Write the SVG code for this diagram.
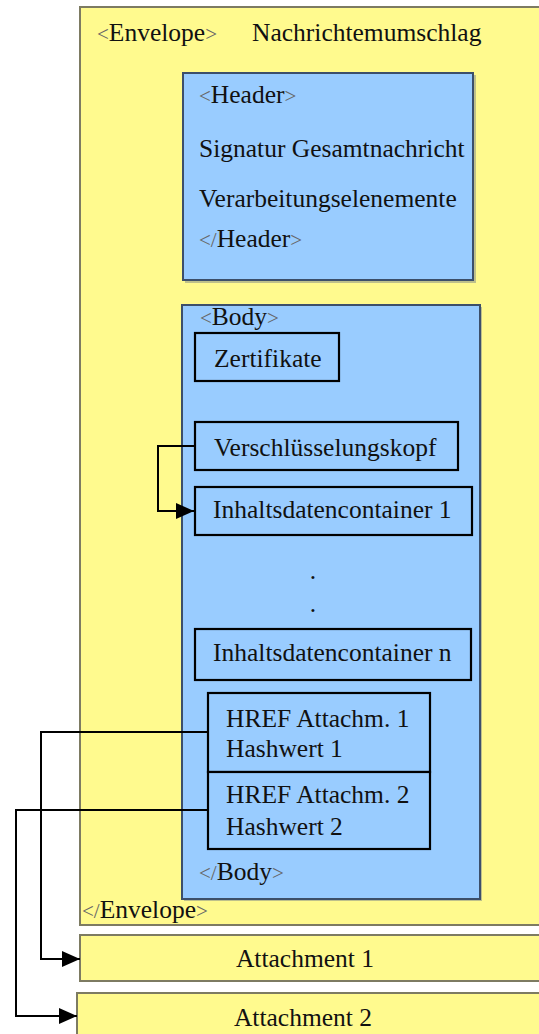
<svg xmlns="http://www.w3.org/2000/svg" width="539" height="1034" viewBox="0 0 539 1034">
  <style>
    text { font-family: "Liberation Serif", "Times New Roman", serif; font-size: 25.5px; fill: #111; }
    .br { fill: #666; font-size: 21px; }
    .env { fill: #FFFA8E; stroke: #7d7b62; stroke-width: 2; }
    .blue { fill: #99CCFF; stroke: #3c4f6a; stroke-width: 2; }
    .item { fill: #99CCFF; stroke: #000; stroke-width: 2.2; }
    .wire { fill: none; stroke: #000; stroke-width: 2; }
    .shadow { fill: #6f7a88; opacity: 0.45; }
  </style>
  <defs>
    <marker id="arrow" viewBox="0 0 18 16" refX="18" refY="8" markerWidth="18" markerHeight="16" markerUnits="userSpaceOnUse" orient="auto">
      <path d="M0,0 L18,8 L0,16 Z" fill="#000"/>
    </marker>
  </defs>

  <!-- Envelope -->
  <g id="envelope">
    <rect class="env" x="80" y="7" width="470" height="918"/>
    <text x="97" y="41"><tspan class="br">&lt;</tspan>Envelope<tspan class="br">&gt;</tspan></text>
    <text x="252" y="41">Nachrichtemumschlag</text>
    <text x="82" y="918"><tspan class="br">&lt;/</tspan>Envelope<tspan class="br">&gt;</tspan></text>
  </g>

  <!-- Header -->
  <g id="header">
    <rect class="shadow" x="185" y="75" width="291" height="208"/>
    <rect class="blue" x="183" y="73" width="290" height="207"/>
    <text x="199" y="103"><tspan class="br">&lt;</tspan>Header<tspan class="br">&gt;</tspan></text>
    <text x="199" y="157">Signatur Gesamtnachricht</text>
    <text x="199" y="207">Verarbeitungselenemente</text>
    <text x="199" y="247"><tspan class="br">&lt;/</tspan>Header<tspan class="br">&gt;</tspan></text>
  </g>

  <!-- Body -->
  <g id="body">
    <rect class="shadow" x="184" y="307" width="298" height="594"/>
    <rect class="blue" x="182" y="305" width="298" height="594" stroke="#5a6f8c" stroke-width="1.6"/>
    <text x="200" y="325"><tspan class="br">&lt;</tspan>Body<tspan class="br">&gt;</tspan></text>
    <text x="313" y="579" text-anchor="middle">.</text>
    <text x="313" y="612" text-anchor="middle">.</text>
    <text x="199" y="880"><tspan class="br">&lt;/</tspan>Body<tspan class="br">&gt;</tspan></text>
  </g>

  <g id="zertifikate">
    <rect class="item" x="195" y="333" width="144" height="48"/>
    <text x="214" y="367">Zertifikate</text>
  </g>

  <g id="verschluesselungskopf">
    <rect class="item" x="195" y="422" width="263" height="48"/>
    <text x="214" y="456">Verschlüsselungskopf</text>
  </g>

  <g id="container1">
    <rect class="item" x="195" y="487" width="277" height="48"/>
    <text x="213" y="518">Inhaltsdatencontainer 1</text>
  </g>

  <g id="containern">
    <rect class="item" x="195" y="629" width="276" height="51"/>
    <text x="213" y="661">Inhaltsdatencontainer n</text>
  </g>

  <g id="href1">
    <rect class="item" x="208" y="693" width="222" height="79"/>
    <text x="226" y="727">HREF Attachm. 1</text>
    <text x="226" y="757">Hashwert 1</text>
  </g>

  <g id="href2">
    <rect class="item" x="208" y="772" width="222" height="77"/>
    <text x="226" y="803">HREF Attachm. 2</text>
    <text x="226" y="835">Hashwert 2</text>
  </g>

  <!-- Attachments -->
  <g id="attachment1">
    <rect class="env" x="80" y="935" width="470" height="46"/>
    <text x="305" y="967" text-anchor="middle">Attachment 1</text>
  </g>

  <g id="attachment2">
    <rect class="env" x="77" y="993" width="473" height="50"/>
    <text x="303" y="1026" text-anchor="middle">Attachment 2</text>
  </g>

  <!-- Connectors -->
  <g id="connectors">
    <path class="wire" d="M195,446 H158 V511 H194" marker-end="url(#arrow)"/>
    <path class="wire" d="M166,732 H41 V959 H80" marker-end="url(#arrow)"/>
    <path class="wire" d="M208,732 H166" stroke="#5d6a7a"/>
    <path class="wire" d="M208,810 H16 V1016 H77" marker-end="url(#arrow)"/>
  </g>
</svg>
